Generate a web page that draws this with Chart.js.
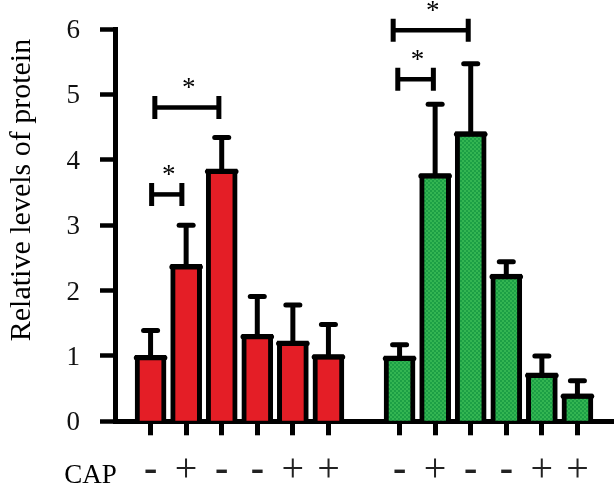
<!DOCTYPE html>
<html>
<head>
<meta charset="utf-8">
<script src="https://cdn.jsdelivr.net/npm/chart.js@4.4.1/dist/chart.umd.min.js"></script>
<style>
  html, body { margin: 0; padding: 0; background: #fff; }
</style>
</head>
<body>
<canvas id="proteinChart" width="616" height="486"></canvas>
<script>
// CAP treatment per slot ('' = empty slot on the axis)
const capLabels = ['', '-', '+', '-', '-', '+', '+', '', '-', '+', '-', '-', '+', '+', ''];

// red group (slots 1-6) and green group (slots 8-13)
const redMeans = [1.01, 2.40, 3.86, 1.33, 1.23, 1.02];
const redSD = [0.38, 0.60, 0.48, 0.58, 0.55, 0.46];
const greenMeans = [1.00, 3.79, 4.43, 2.25, 0.74, 0.42];
const greenSD = [0.17, 1.06, 1.04, 0.19, 0.26, 0.20];

const yTicks = [0, 1, 2, 3, 4, 5, 6];

// significance brackets (slot positions and level on y scale)
const sigFrom = [1.03, 1.12, 7.95, 7.82];
const sigTo = [1.88, 2.92, 8.95, 9.93];
const sigLevel = [3.47, 4.80, 5.23, 5.98];

const serif = '"Liberation Serif", "Times New Roman", serif';

// pad a group into the full slot list
function placeGroup(values, start) {
    const out = capLabels.map(() => null);
    values.forEach((v, i) => { out[start + i] = v; });
    return out;
}

// checkered green fill
function makeGreenPattern() {
    const c = document.createElement('canvas');
    c.width = 4;
    c.height = 4;
    const g = c.getContext('2d');
    g.fillStyle = '#33b552';
    g.fillRect(0, 0, 4, 4);
    g.fillStyle = '#1c9f45';
    g.fillRect(0, 0, 2, 2);
    g.fillRect(2, 2, 2, 2);
    return g.createPattern(c, 'repeat');
}

// no extra label padding, so the plot area is set by layout only
function noScalePadding(scale) {
    scale.paddingTop = 0;
    scale.paddingBottom = 0;
    scale.paddingLeft = 0;
    scale.paddingRight = 0;
}

// error bars, bar top caps, brackets, stars and axis texts
const annotations = {
    id: 'annotations',
    afterDatasetsDraw(chart) {
        const ctx = chart.ctx;
        const x = chart.scales.x;
        const y = chart.scales.y;
        ctx.save();
        ctx.strokeStyle = '#000';
        ctx.fillStyle = '#000';

        chart.data.datasets.forEach((ds, di) => {
            const meta = chart.getDatasetMeta(di);
            ds.data.forEach((v, i) => {
                if (v === null) return;
                const bar = meta.data[i];
                const sd = ds.sd[i];
                const top = y.getPixelForValue(v + sd);
                ctx.lineWidth = 5;
                ctx.lineCap = 'butt';
                ctx.beginPath();
                ctx.moveTo(bar.x, bar.y + 2);
                ctx.lineTo(bar.x, top);
                ctx.stroke();
                ctx.lineCap = 'round';
                ctx.beginPath();
                ctx.moveTo(bar.x - 7, top);
                ctx.lineTo(bar.x + 7, top);
                ctx.stroke();
                ctx.beginPath();
                ctx.moveTo(bar.x - bar.width / 2 + 1.2, bar.y + 2.5);
                ctx.lineTo(bar.x + bar.width / 2 - 1.2, bar.y + 2.5);
                ctx.stroke();
            });
        });

        sigLevel.forEach((lvl, i) => {
            const x1 = x.getPixelForValue(sigFrom[i]);
            const x2 = x.getPixelForValue(sigTo[i]);
            const py = y.getPixelForValue(lvl);
            ctx.lineCap = 'butt';
            ctx.lineWidth = 4.5;
            ctx.beginPath();
            ctx.moveTo(x1, py);
            ctx.lineTo(x2, py);
            ctx.stroke();
            ctx.lineWidth = 5;
            ctx.beginPath();
            ctx.moveTo(x1, py - 11.5);
            ctx.lineTo(x1, py + 11.5);
            ctx.moveTo(x2, py - 11.5);
            ctx.lineTo(x2, py + 11.5);
            ctx.stroke();
            ctx.font = '27px ' + serif;
            ctx.textAlign = 'center';
            ctx.textBaseline = 'alphabetic';
            ctx.fillText('*', (x1 + x2) / 2 + 2, py - 11);
        });

        ctx.font = '27px ' + serif;
        ctx.textAlign = 'center';
        ctx.textBaseline = 'alphabetic';
        ctx.fillText('CAP', 90.5, 483);

        ctx.translate(29.5, 190);
        ctx.rotate(-Math.PI / 2);
        ctx.font = '30px ' + serif;
        ctx.fillText('Relative levels of protein', 0, 0);
        ctx.restore();
    }
};

const ctx = document.getElementById('proteinChart').getContext('2d');
new Chart(ctx, {
    type: 'bar',
    data: {
        labels: capLabels,
        datasets: [{
            data: placeGroup(redMeans, 1),
            sd: placeGroup(redSD, 1),
            backgroundColor: '#e41e26',
            borderColor: '#000',
            borderWidth: 5,
            borderSkipped: 'bottom',
            grouped: false,
            barThickness: 31
        }, {
            data: placeGroup(greenMeans, 8),
            sd: placeGroup(greenSD, 8),
            backgroundColor: makeGreenPattern(),
            borderColor: '#000',
            borderWidth: 5,
            borderSkipped: 'bottom',
            grouped: false,
            barThickness: 31
        }]
    },
    options: {
        responsive: false,
        animation: false,
        devicePixelRatio: 1,
        layout: { padding: { top: 29, right: 3, left: 0, bottom: 0 } },
        plugins: {
            legend: { display: false },
            tooltip: { enabled: false }
        },
        scales: {
            x: {
                type: 'category',
                offset: false,
                z: 1,
                afterFit: scale => { scale.height = 64.7; noScalePadding(scale); },
                grid: {
                    offset: false,
                    drawOnChartArea: false,
                    tickLength: 14,
                    tickWidth: 5,
                    tickColor: c => (c.tick && c.tick.label === '') ? 'rgba(0,0,0,0)' : '#000'
                },
                border: { color: '#000', width: 5 },
                ticks: {
                    color: '#222',
                    padding: 11,
                    autoSkip: false,
                    maxRotation: 0,
                    font: c => ({
                        family: serif,
                        size: 40,
                        weight: (c.tick && c.tick.label === '-') ? 'bold' : 'normal'
                    })
                }
            },
            y: {
                min: 0,
                max: 6,
                afterFit: scale => { scale.width = 115; noScalePadding(scale); },
                afterBuildTicks: scale => { scale.ticks = yTicks.map(v => ({ value: v })); },
                grid: {
                    drawOnChartArea: false,
                    tickLength: 15,
                    tickWidth: 4.5,
                    tickColor: '#000'
                },
                border: { color: '#000', width: 5 },
                ticks: {
                    color: '#111',
                    padding: 20,
                    labelOffset: 2,
                    font: { family: serif, size: 27 }
                }
            }
        }
    },
    plugins: [annotations]
});
</script>
</body>
</html>
